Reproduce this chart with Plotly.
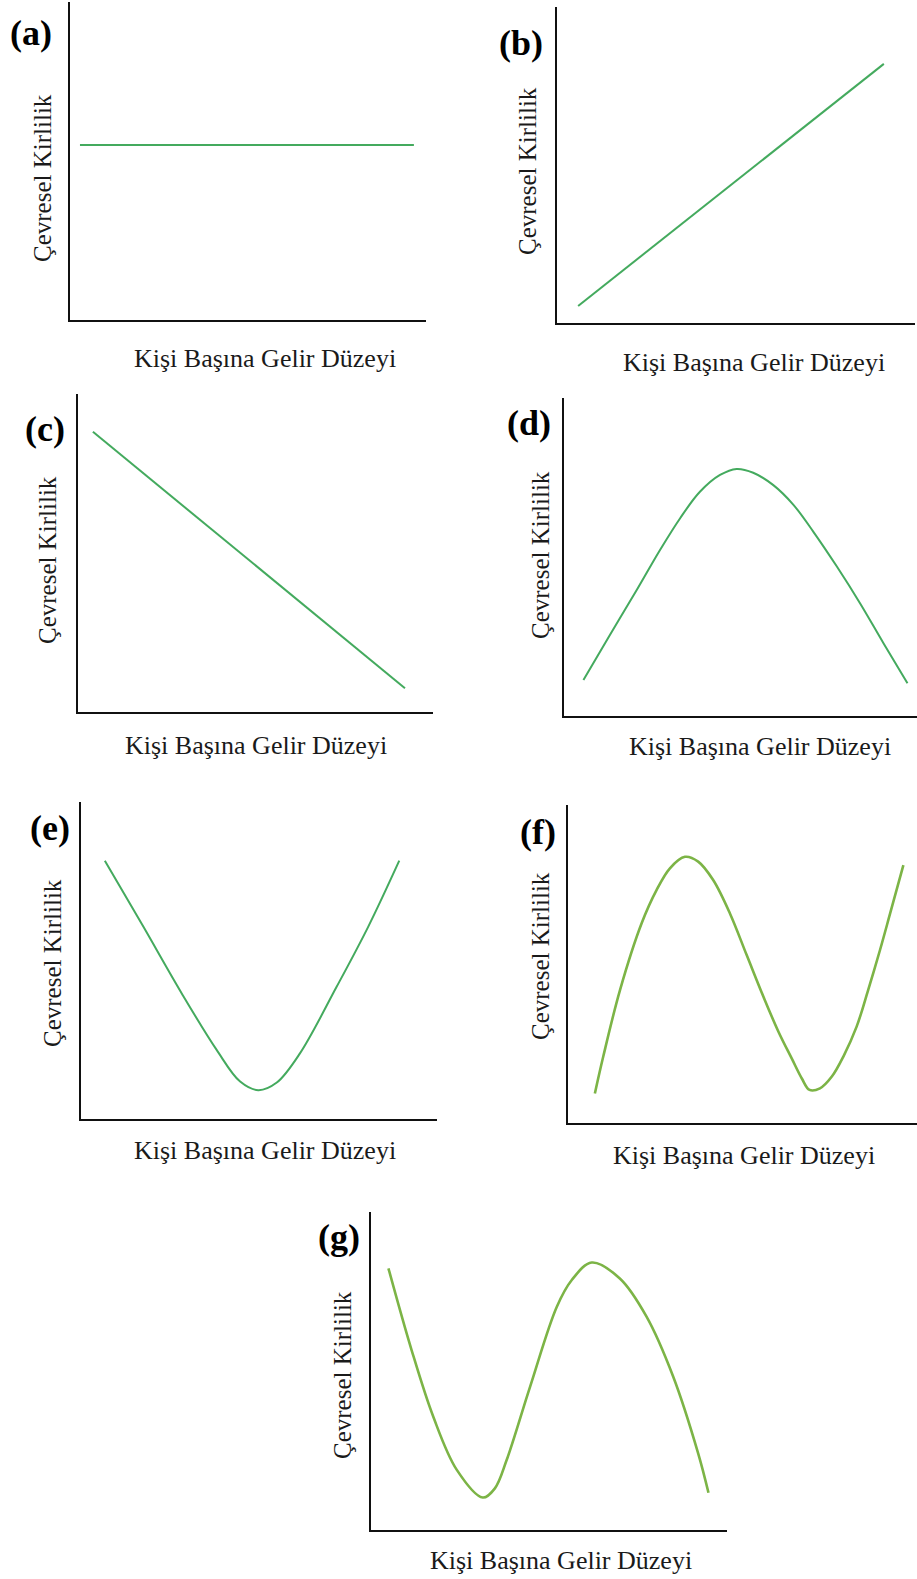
import plotly.graph_objects as go

W, H = 917, 1579

# ---- data (unitless 0-100 scales) ----
a_x = [2.8, 96.6]
a_y = [55.0, 55.0]

b_x = [5.9, 91.3]
b_y = [5.4, 82.0]

c_x = [4.2, 92.1]
c_y = [88.1, 7.5]

d_x = [5.5, 13.0, 20.6, 27.2, 32.9, 38.5, 44.2, 48.9, 53.6, 59.3, 65.0, 70.6, 77.3, 83.9, 90.5, 97.3]
d_y = [11.3, 25.5, 39.6, 52.2, 62.2, 70.5, 75.8, 77.7, 76.5, 72.6, 66.4, 58.0, 47.0, 35.4, 22.9, 10.3]

e_x = [6.7, 17.5, 28.3, 38.1, 44.7, 49.8, 55.0, 61.5, 71.8, 80.7, 89.4]
e_y = [81.5, 60.7, 39.6, 21.8, 11.8, 9.1, 11.5, 20.7, 41.7, 60.7, 81.5]

f_x = [7.7, 10.1, 14.9, 21.1, 25.4, 29.2, 33.5, 37.3, 41.6, 46.4, 51.2, 56.0, 60.3, 64.1, 67.0, 69.2,
       72.2, 75.6, 78.9, 82.7, 86.0, 89.4, 92.3, 96.1]
f_y = [9.3, 20.9, 41.8, 62.8, 73.3, 80.1, 83.7, 82.2, 76.4, 65.9, 52.8, 39.7, 28.7, 20.3, 14.0, 10.4,
       10.9, 14.6, 20.9, 30.3, 41.8, 54.4, 65.9, 81.1]

g_x = [4.9, 11.4, 17.5, 24.1, 31.4, 34.8, 38.1, 44.7, 52.2, 56.4, 62.0, 69.9, 77.4, 84.9, 91.9, 94.8]
g_y = [82.3, 56.6, 35.6, 18.9, 10.2, 13.1, 22.0, 45.1, 70.2, 78.6, 84.1, 79.1, 67.1, 48.2, 24.1, 11.7]

panel_labels = ["(a)", "(b)", "(c)", "(d)", "(e)", "(f)", "(g)"]
y_title = "Çevresel Kirlilik"
x_title = "Kişi Başına Gelir Düzeyi"

series = [(a_x, a_y), (b_x, b_y), (c_x, c_y), (d_x, d_y), (e_x, e_y), (f_x, f_y), (g_x, g_y)]

# ---- layout (pixel boxes) ----
boxes = [  # x0, x1, y0(top), y1(bottom)
    (70, 426, 2, 320),
    (557, 915, 7, 323),
    (78, 433, 394, 712),
    (564, 917, 398, 716),
    (81, 437, 802, 1119),
    (568, 917, 805, 1123),
    (371, 727, 1212, 1530),
]
label_pos = [(31, 33), (521, 43), (45, 429), (529, 423), (50, 828), (538, 832), (339, 1237)]
ytitle_pos = [(42, 178), (527, 171), (47, 560), (540, 555), (53, 963), (540, 956), (342, 1375)]
xtitle_pos = [(265, 358), (754, 362), (256, 745), (760, 747), (265, 1150), (744, 1155), (561, 1560)]
colors = ["#44aa5e"] * 5 + ["#7cb446"] * 2
widths = [2, 2, 2, 2, 2, 2.6, 2.6]
shapes_ = ["linear", "linear", "linear", "spline", "spline", "spline", "spline"]
FONT = "Liberation Serif, Times New Roman, serif"

fig = go.Figure()
layout = dict(width=W, height=H, margin=dict(l=0, r=0, t=0, b=0),
              paper_bgcolor="white", plot_bgcolor="white", showlegend=False)

def px(x):
    return x / W

def py(y):
    return 1 - y / H

annotations = []
for i, ((xs, ys), box) in enumerate(zip(series, boxes)):
    n = "" if i == 0 else str(i + 1)
    fig.add_trace(go.Scatter(x=xs, y=ys, mode="lines",
                             line=dict(color=colors[i], width=widths[i], shape=shapes_[i], smoothing=1.0),
                             xaxis="x" + n, yaxis="y" + n, hoverinfo="skip"))
    x0, x1, y0, y1 = box
    common = dict(showline=True, linecolor="#111", linewidth=2, showgrid=False, zeroline=False,
                  showticklabels=False, ticks="", range=[0, 100], fixedrange=True)
    layout["xaxis" + n] = dict(domain=[px(x0), px(x1)], anchor="y" + n, **common)
    layout["yaxis" + n] = dict(domain=[py(y1), py(y0)], anchor="x" + n, **common)
    lx, ly = label_pos[i]
    annotations.append(dict(text="<b>" + panel_labels[i] + "</b>", x=px(lx), y=py(ly), xref="paper", yref="paper",
                            showarrow=False, xanchor="center", yanchor="middle",
                            font=dict(family=FONT, size=36, color="black")))
    tx, ty = ytitle_pos[i]
    annotations.append(dict(text=y_title, x=px(tx), y=py(ty), xref="paper", yref="paper", textangle=-90,
                            showarrow=False, xanchor="center", yanchor="middle",
                            font=dict(family=FONT, size=25, color="#1a1a1a")))
    tx, ty = xtitle_pos[i]
    annotations.append(dict(text=x_title, x=px(tx), y=py(ty), xref="paper", yref="paper",
                            showarrow=False, xanchor="center", yanchor="middle",
                            font=dict(family=FONT, size=26, color="#1a1a1a")))

layout["annotations"] = annotations
fig.update_layout(**layout)
fig.write_html("out.html")
